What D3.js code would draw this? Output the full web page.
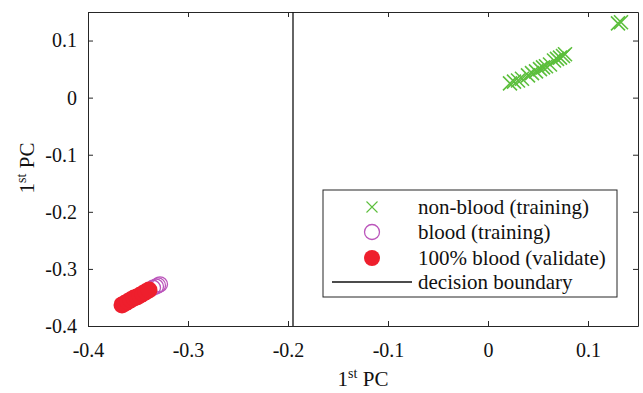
<!DOCTYPE html>
<html>
<head>
<meta charset="utf-8">
<script src="https://cdn.jsdelivr.net/npm/d3@7"></script>
<style>
  body { margin: 0; background: #fff; }
</style>
</head>
<body>
<div class="plot"></div>
<script>
// values
const nonBloodX = [0.022, 0.026, 0.030, 0.034, 0.040, 0.044, 0.048, 0.052, 0.055, 0.058, 0.062, 0.066, 0.069, 0.072, 0.075, 0.077, 0.130, 0.133];
const nonBloodY = [0.025, 0.028, 0.030, 0.033, 0.039, 0.043, 0.046, 0.050, 0.053, 0.055, 0.058, 0.065, 0.068, 0.070, 0.073, 0.076, 0.130, 0.132];
const bloodX = [-0.335, -0.332, -0.330, -0.328];
const bloodY = [-0.333, -0.331, -0.329, -0.327];
const validX = [-0.366, -0.363, -0.360, -0.357, -0.354, -0.351, -0.348, -0.345, -0.342, -0.339];
const validY = [-0.363, -0.360, -0.357, -0.354, -0.351, -0.349, -0.346, -0.343, -0.340, -0.337];
const boundaryX = -0.195;
const xTicks = [-0.4, -0.3, -0.2, -0.1, 0, 0.1];
const yTicks = [-0.4, -0.3, -0.2, -0.1, 0, 0.1];
const legendLabels = ["non-blood (training)", "blood (training)", "100% blood (validate)", "decision boundary"];

const width = 643, height = 393;
const margin = { top: 12, right: 5, bottom: 67, left: 88 };
const w = width - margin.left - margin.right,
      h = height - margin.top - margin.bottom;

const green = "#5cbf3c", purple = "#bb55bb", red = "#ee1f2d", axisColor = "#262626";
const serif = "'Liberation Serif', 'Times New Roman', serif";

const svg = d3.select(".plot").append("svg")
    .attr("width", width).attr("height", height)
    .style("font-family", serif)
    .append("g")
    .attr("transform", `translate(${margin.left}, ${margin.top})`);

const x = d3.scaleLinear().domain([-0.4, 0.15]).range([0, w]);
const y = d3.scaleLinear().domain([-0.4, 0.15]).range([h, 0]);

// plain hyphen for negatives, like the original
const fmt = d => d === 0 ? "0" : (d < 0 ? "-" : "") + Math.abs(d).toFixed(1);

const ax = (g) => {
    g.attr("font-family", null).attr("font-size", null);
    g.selectAll("path,line").attr("stroke", axisColor);
    g.selectAll("text").style("font-family", serif).style("font-size", "20px").attr("fill", "#111");
};
svg.append("g").attr("transform", `translate(0, ${h})`)
    .call(d3.axisBottom(x).tickValues(xTicks).tickFormat(fmt).tickSizeInner(-5).tickSizeOuter(0).tickPadding(17))
    .call(ax);
svg.append("g")
    .call(d3.axisLeft(y).tickValues(yTicks).tickFormat(fmt).tickSizeInner(-5).tickSizeOuter(0).tickPadding(11))
    .call(ax);
svg.append("g")
    .call(d3.axisTop(x).tickValues(xTicks).tickFormat("").tickSizeInner(-5).tickSizeOuter(0))
    .call(ax);
svg.append("g").attr("transform", `translate(${w}, 0)`)
    .call(d3.axisRight(y).tickValues(yTicks).tickFormat("").tickSizeInner(-5).tickSizeOuter(0))
    .call(ax);

// axis titles
const title = (t) => {
    t.style("font-size", "21px").attr("fill", "#111").attr("text-anchor", "middle");
    t.append("tspan").text("1");
    t.append("tspan").attr("dy", -8).style("font-size", "14px").text("st");
    t.append("tspan").attr("dy", 8).text(" PC");
};
svg.append("text").attr("x", w / 2).attr("y", h + 60).call(title);
svg.append("text")
    .attr("transform", `translate(-54, ${h / 2 - 1}) rotate(-90)`)
    .call(title);

// decision boundary
svg.append("line")
    .attr("x1", x(boundaryX)).attr("x2", x(boundaryX))
    .attr("y1", 0).attr("y2", h)
    .attr("stroke", "#111").attr("stroke-width", 1.3);

// non-blood crosses
const cross = (g, cx, cy, r) => g.append("path")
    .attr("d", `M${cx - r},${cy - r}L${cx + r},${cy + r}M${cx - r},${cy + r}L${cx + r},${cy - r}`)
    .attr("stroke", green).attr("stroke-width", 1.6).attr("fill", "none");

const crosses = svg.append("g");
nonBloodX.forEach((v, i) => cross(crosses, x(v), y(nonBloodY[i]), 7));

// blood training (open circles)
svg.append("g").selectAll("circle")
    .data(bloodX)
    .join("circle")
    .attr("cx", d => x(d))
    .attr("cy", (d, i) => y(bloodY[i]))
    .attr("r", 7.5)
    .attr("fill", "none").attr("stroke", purple).attr("stroke-width", 1.3);

// validate (filled)
svg.append("g").selectAll("circle")
    .data(validX)
    .join("circle")
    .attr("cx", d => x(d))
    .attr("cy", (d, i) => y(validY[i]))
    .attr("r", 8.5)
    .attr("fill", red);

// legend
const lg = svg.append("g").attr("transform", `translate(${323 - margin.left}, ${190 - margin.top})`);
lg.append("rect")
    .attr("width", 294).attr("height", 107)
    .attr("fill", "#fff").attr("stroke", axisColor).attr("stroke-width", 1);

const rowY = [17, 42, 68, 92];
cross(lg, 49, rowY[0], 5.5).attr("stroke-width", 1.1);
lg.append("circle").attr("cx", 49).attr("cy", rowY[1]).attr("r", 7.5)
    .attr("fill", "none").attr("stroke", purple).attr("stroke-width", 1.3);
lg.append("circle").attr("cx", 49).attr("cy", rowY[2]).attr("r", 8).attr("fill", red);
lg.append("line").attr("x1", 9).attr("x2", 89).attr("y1", rowY[3]).attr("y2", rowY[3])
    .attr("stroke", "#111").attr("stroke-width", 1.3);

lg.selectAll("text.lbl")
    .data(legendLabels)
    .join("text")
    .attr("class", "lbl")
    .attr("x", 95)
    .attr("y", (d, i) => rowY[i])
    .attr("dy", "0.35em")
    .attr("fill", "#111")
    .style("font-size", "21px")
    .text(d => d);
</script>
</body>
</html>
